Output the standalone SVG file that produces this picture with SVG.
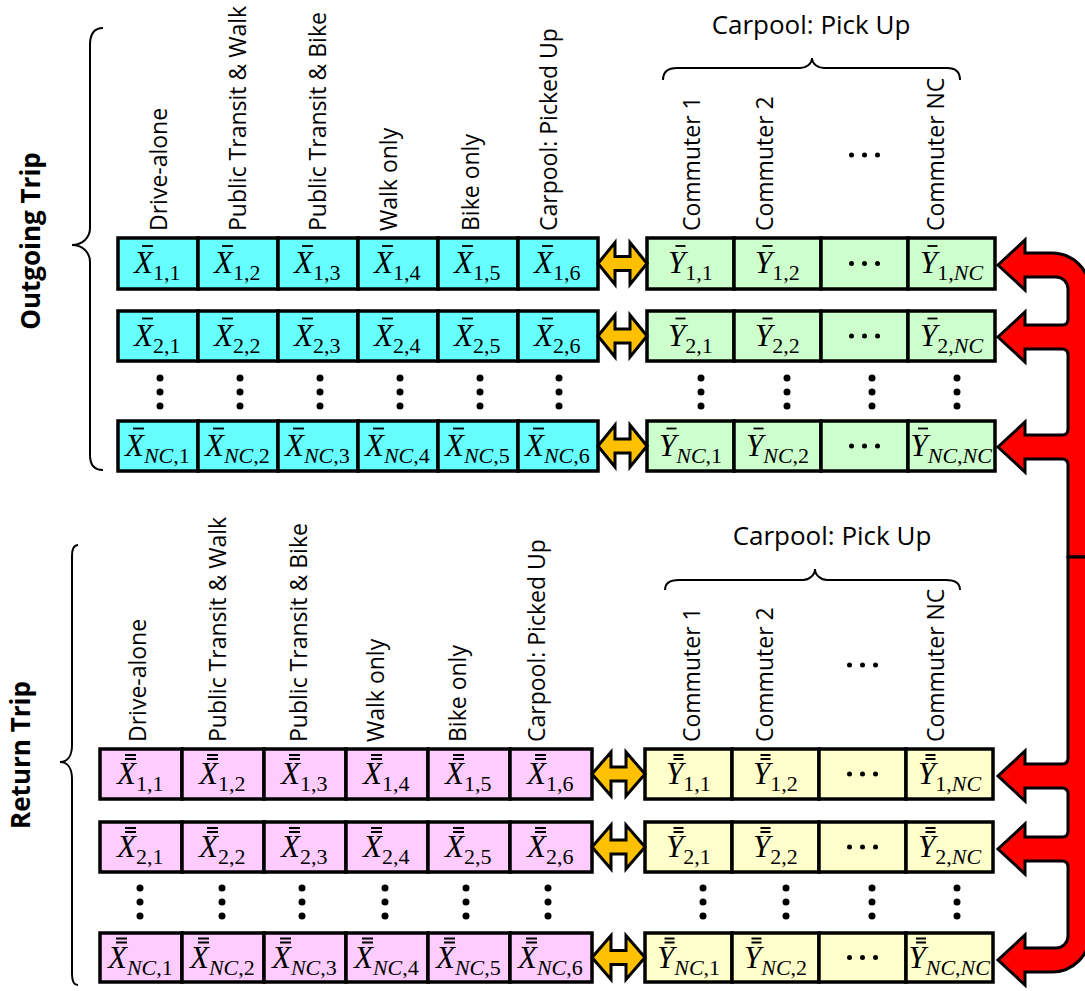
<svg xmlns="http://www.w3.org/2000/svg" xmlns:xlink="http://www.w3.org/1999/xlink" width="1085" height="991" viewBox="0 0 1085 991">
<style>
.c1{fill:#66FFFF;stroke:#000;stroke-width:3.5}
.c2{fill:#CCFFCC;stroke:#000;stroke-width:3.5}
.c3{fill:#FFCCFF;stroke:#000;stroke-width:3.5}
.c4{fill:#FFFFCC;stroke:#000;stroke-width:3.5}
.m{font-family:"Liberation Serif",serif;font-size:31px;font-style:italic;fill:#000}
.s{font-size:22px;font-style:normal}
.i{font-style:italic}
.b{stroke:#000;stroke-width:1.8;fill:none}
.l{font-family:"Open Sans",sans-serif;font-size:23px;fill:#000}
.h{font-family:"Open Sans",sans-serif;font-size:26px;fill:#000}
.t{font-family:"Open Sans",sans-serif;font-size:26px;font-weight:bold;fill:#000}
.br{fill:none;stroke:#000;stroke-width:2}
.d{fill:#000}
.oa{fill:#FFC000;stroke:#000;stroke-width:3}
.ra{fill:#FF0000;stroke:#000;stroke-width:3}
</style>
<defs>
<path id="da" d="M0 0L17 -21V-7H32V-21L49 0L32 21V7H17V21Z"/>
<path id="db" d="M0 0L19 -22V-7H34V-22L53 0L34 22V7H19V22Z"/>
<g id="vd"><circle cx="0" cy="0" r="3.5"/><circle cx="0" cy="14" r="3.5"/><circle cx="0" cy="28" r="3.5"/></g>
<g id="hd"><circle cx="-13" cy="0" r="2.5"/><circle cx="0" cy="0" r="2.5"/><circle cx="13" cy="0" r="2.5"/></g>
</defs>

<g id="titles">
<text class="t" text-anchor="middle" transform="translate(40,241) rotate(-90)">Outgoing Trip</text>
<text class="t" text-anchor="middle" transform="translate(30,755) rotate(-90)">Return Trip</text>
</g>

<g id="braces">
<path class="br" d="M103 28C94 28 90 34 90 45V228C90 238 82 245 72 245C82 245 90 252 90 262V455C90 465 94 470 103 470"/>
<path class="br" d="M78 545C75 545 72 548 72 556V745C72 755 68 762 60 762C68 762 72 769 72 779V974C72 982 75 985 78 985"/>
<path class="br" d="M663 80C663 72 668 68 677 68H800C806 68 812 64 812 58C812 64 818 68 824 68H947C956 68 960 72 960 80"/>
<path class="br" d="M665 590C665 583 670 580 679 580H803C809 580 815 575 815 569C815 575 821 580 827 580H946C955 580 960 583 960 590"/>
</g>

<g id="labels-top">
<text class="h" x="811" y="34" text-anchor="middle">Carpool: Pick Up</text>
<text class="l" transform="translate(167,231) rotate(-90)">Drive-alone</text>
<text class="l" transform="translate(246,231) rotate(-90)">Public Transit &amp; Walk</text>
<text class="l" transform="translate(326,231) rotate(-90)">Public Transit &amp; Bike</text>
<text class="l" transform="translate(397,231) rotate(-90)">Walk only</text>
<text class="l" transform="translate(479,231) rotate(-90)">Bike only</text>
<text class="l" transform="translate(557,231) rotate(-90)">Carpool: Picked Up</text>
<text class="l" transform="translate(700,231) rotate(-90)">Commuter 1</text>
<text class="l" transform="translate(773,231) rotate(-90)">Commuter 2</text>
<text class="l" transform="translate(944,231) rotate(-90)">Commuter NC</text>
<use xlink:href="#hd" x="864.5" y="155"/>
</g>

<g id="labels-bottom">
<text class="h" x="832" y="545" text-anchor="middle">Carpool: Pick Up</text>
<text class="l" transform="translate(146,742) rotate(-90)">Drive-alone</text>
<text class="l" transform="translate(226,742) rotate(-90)">Public Transit &amp; Walk</text>
<text class="l" transform="translate(307,742) rotate(-90)">Public Transit &amp; Bike</text>
<text class="l" transform="translate(384,742) rotate(-90)">Walk only</text>
<text class="l" transform="translate(466,742) rotate(-90)">Bike only</text>
<text class="l" transform="translate(545,742) rotate(-90)">Carpool: Picked Up</text>
<text class="l" transform="translate(700,742) rotate(-90)">Commuter 1</text>
<text class="l" transform="translate(773,742) rotate(-90)">Commuter 2</text>
<text class="l" transform="translate(944,742) rotate(-90)">Commuter NC</text>
<use xlink:href="#hd" x="862.5" y="665"/>
</g>

<!-- Outgoing X cells -->
<g id="ox1-1"><rect class="c1" x="118" y="238" width="80" height="51"/><path class="b" d="M142 246h11"/><text class="m" x="134" y="273">X<tspan class="s" dy="7">1,1</tspan></text></g>
<g id="ox1-2"><rect class="c1" x="198" y="238" width="80" height="51"/><path class="b" d="M222 246h11"/><text class="m" x="214" y="273">X<tspan class="s" dy="7">1,2</tspan></text></g>
<g id="ox1-3"><rect class="c1" x="278" y="238" width="80" height="51"/><path class="b" d="M302 246h11"/><text class="m" x="294" y="273">X<tspan class="s" dy="7">1,3</tspan></text></g>
<g id="ox1-4"><rect class="c1" x="358" y="238" width="80" height="51"/><path class="b" d="M382 246h11"/><text class="m" x="374" y="273">X<tspan class="s" dy="7">1,4</tspan></text></g>
<g id="ox1-5"><rect class="c1" x="438" y="238" width="80" height="51"/><path class="b" d="M462 246h11"/><text class="m" x="454" y="273">X<tspan class="s" dy="7">1,5</tspan></text></g>
<g id="ox1-6"><rect class="c1" x="518" y="238" width="80" height="51"/><path class="b" d="M542 246h11"/><text class="m" x="534" y="273">X<tspan class="s" dy="7">1,6</tspan></text></g>

<g id="ox2-1"><rect class="c1" x="118" y="311" width="80" height="50"/><path class="b" d="M142 318.5h11"/><text class="m" x="134" y="345.5">X<tspan class="s" dy="7">2,1</tspan></text></g>
<g id="ox2-2"><rect class="c1" x="198" y="311" width="80" height="50"/><path class="b" d="M222 318.5h11"/><text class="m" x="214" y="345.5">X<tspan class="s" dy="7">2,2</tspan></text></g>
<g id="ox2-3"><rect class="c1" x="278" y="311" width="80" height="50"/><path class="b" d="M302 318.5h11"/><text class="m" x="294" y="345.5">X<tspan class="s" dy="7">2,3</tspan></text></g>
<g id="ox2-4"><rect class="c1" x="358" y="311" width="80" height="50"/><path class="b" d="M382 318.5h11"/><text class="m" x="374" y="345.5">X<tspan class="s" dy="7">2,4</tspan></text></g>
<g id="ox2-5"><rect class="c1" x="438" y="311" width="80" height="50"/><path class="b" d="M462 318.5h11"/><text class="m" x="454" y="345.5">X<tspan class="s" dy="7">2,5</tspan></text></g>
<g id="ox2-6"><rect class="c1" x="518" y="311" width="80" height="50"/><path class="b" d="M542 318.5h11"/><text class="m" x="534" y="345.5">X<tspan class="s" dy="7">2,6</tspan></text></g>

<g id="oxn-1"><rect class="c1" x="118" y="421" width="80" height="50"/><path class="b" d="M133 428.5h11"/><text class="m" x="125" y="455.5">X<tspan class="s" dy="7"><tspan class="i">NC</tspan>,1</tspan></text></g>
<g id="oxn-2"><rect class="c1" x="198" y="421" width="80" height="50"/><path class="b" d="M213 428.5h11"/><text class="m" x="205" y="455.5">X<tspan class="s" dy="7"><tspan class="i">NC</tspan>,2</tspan></text></g>
<g id="oxn-3"><rect class="c1" x="278" y="421" width="80" height="50"/><path class="b" d="M293 428.5h11"/><text class="m" x="285" y="455.5">X<tspan class="s" dy="7"><tspan class="i">NC</tspan>,3</tspan></text></g>
<g id="oxn-4"><rect class="c1" x="358" y="421" width="80" height="50"/><path class="b" d="M373 428.5h11"/><text class="m" x="365" y="455.5">X<tspan class="s" dy="7"><tspan class="i">NC</tspan>,4</tspan></text></g>
<g id="oxn-5"><rect class="c1" x="438" y="421" width="80" height="50"/><path class="b" d="M453 428.5h11"/><text class="m" x="445" y="455.5">X<tspan class="s" dy="7"><tspan class="i">NC</tspan>,5</tspan></text></g>
<g id="oxn-6"><rect class="c1" x="518" y="421" width="80" height="50"/><path class="b" d="M533 428.5h11"/><text class="m" x="525" y="455.5">X<tspan class="s" dy="7"><tspan class="i">NC</tspan>,6</tspan></text></g>

<!-- Outgoing Y cells -->
<g id="oy1-1"><rect class="c2" x="647" y="238" width="87" height="51"/><path class="b" d="M675.5 246h10"/><text class="m" x="668" y="273">Y<tspan class="s" dy="7">1,1</tspan></text></g>
<g id="oy1-2"><rect class="c2" x="734" y="238" width="87" height="51"/><path class="b" d="M762.5 246h10"/><text class="m" x="755" y="273">Y<tspan class="s" dy="7">1,2</tspan></text></g>
<g id="oy1-3"><rect class="c2" x="821" y="238" width="87" height="51"/><use xlink:href="#hd" x="864.5" y="263.5"/></g>
<g id="oy1-n"><rect class="c2" x="908" y="238" width="87" height="51"/><path class="b" d="M927.5 246h10"/><text class="m" x="920" y="273">Y<tspan class="s" dy="7">1,<tspan class="i">NC</tspan></tspan></text></g>

<g id="oy2-1"><rect class="c2" x="647" y="311" width="87" height="50"/><path class="b" d="M675.5 318.5h10"/><text class="m" x="668" y="345.5">Y<tspan class="s" dy="7">2,1</tspan></text></g>
<g id="oy2-2"><rect class="c2" x="734" y="311" width="87" height="50"/><path class="b" d="M762.5 318.5h10"/><text class="m" x="755" y="345.5">Y<tspan class="s" dy="7">2,2</tspan></text></g>
<g id="oy2-3"><rect class="c2" x="821" y="311" width="87" height="50"/><use xlink:href="#hd" x="864.5" y="336"/></g>
<g id="oy2-n"><rect class="c2" x="908" y="311" width="87" height="50"/><path class="b" d="M927.5 318.5h10"/><text class="m" x="920" y="345.5">Y<tspan class="s" dy="7">2,<tspan class="i">NC</tspan></tspan></text></g>

<g id="oyn-1"><rect class="c2" x="647" y="421" width="87" height="50"/><path class="b" d="M666.5 428.5h10"/><text class="m" x="659" y="455.5">Y<tspan class="s" dy="7"><tspan class="i">NC</tspan>,1</tspan></text></g>
<g id="oyn-2"><rect class="c2" x="734" y="421" width="87" height="50"/><path class="b" d="M753.5 428.5h10"/><text class="m" x="746" y="455.5">Y<tspan class="s" dy="7"><tspan class="i">NC</tspan>,2</tspan></text></g>
<g id="oyn-3"><rect class="c2" x="821" y="421" width="87" height="50"/><use xlink:href="#hd" x="864.5" y="446"/></g>
<g id="oyn-n"><rect class="c2" x="908" y="421" width="87" height="50"/><path class="b" d="M918 428.5h10"/><text class="m" x="910.5" y="455.5">Y<tspan class="s" dy="7"><tspan class="i">NC</tspan>,<tspan class="i">NC</tspan></tspan></text></g>

<!-- Return X cells -->
<g id="rx1-1"><rect class="c3" x="100" y="749" width="82" height="50"/><path class="b" d="M125 755h11M125 759h11"/><text class="m" x="117" y="784">X<tspan class="s" dy="7">1,1</tspan></text></g>
<g id="rx1-2"><rect class="c3" x="182" y="749" width="82" height="50"/><path class="b" d="M207 755h11M207 759h11"/><text class="m" x="199" y="784">X<tspan class="s" dy="7">1,2</tspan></text></g>
<g id="rx1-3"><rect class="c3" x="264" y="749" width="82" height="50"/><path class="b" d="M289 755h11M289 759h11"/><text class="m" x="281" y="784">X<tspan class="s" dy="7">1,3</tspan></text></g>
<g id="rx1-4"><rect class="c3" x="346" y="749" width="82" height="50"/><path class="b" d="M371 755h11M371 759h11"/><text class="m" x="363" y="784">X<tspan class="s" dy="7">1,4</tspan></text></g>
<g id="rx1-5"><rect class="c3" x="428" y="749" width="82" height="50"/><path class="b" d="M453 755h11M453 759h11"/><text class="m" x="445" y="784">X<tspan class="s" dy="7">1,5</tspan></text></g>
<g id="rx1-6"><rect class="c3" x="510" y="749" width="82" height="50"/><path class="b" d="M535 755h11M535 759h11"/><text class="m" x="527" y="784">X<tspan class="s" dy="7">1,6</tspan></text></g>

<g id="rx2-1"><rect class="c3" x="100" y="822" width="82" height="50"/><path class="b" d="M125 828h11M125 832h11"/><text class="m" x="117" y="857">X<tspan class="s" dy="7">2,1</tspan></text></g>
<g id="rx2-2"><rect class="c3" x="182" y="822" width="82" height="50"/><path class="b" d="M207 828h11M207 832h11"/><text class="m" x="199" y="857">X<tspan class="s" dy="7">2,2</tspan></text></g>
<g id="rx2-3"><rect class="c3" x="264" y="822" width="82" height="50"/><path class="b" d="M289 828h11M289 832h11"/><text class="m" x="281" y="857">X<tspan class="s" dy="7">2,3</tspan></text></g>
<g id="rx2-4"><rect class="c3" x="346" y="822" width="82" height="50"/><path class="b" d="M371 828h11M371 832h11"/><text class="m" x="363" y="857">X<tspan class="s" dy="7">2,4</tspan></text></g>
<g id="rx2-5"><rect class="c3" x="428" y="822" width="82" height="50"/><path class="b" d="M453 828h11M453 832h11"/><text class="m" x="445" y="857">X<tspan class="s" dy="7">2,5</tspan></text></g>
<g id="rx2-6"><rect class="c3" x="510" y="822" width="82" height="50"/><path class="b" d="M535 828h11M535 832h11"/><text class="m" x="527" y="857">X<tspan class="s" dy="7">2,6</tspan></text></g>

<g id="rxn-1"><rect class="c3" x="100" y="933" width="82" height="49"/><path class="b" d="M116 938.5h11M116 942.5h11"/><text class="m" x="108" y="967.5">X<tspan class="s" dy="7"><tspan class="i">NC</tspan>,1</tspan></text></g>
<g id="rxn-2"><rect class="c3" x="182" y="933" width="82" height="49"/><path class="b" d="M198 938.5h11M198 942.5h11"/><text class="m" x="190" y="967.5">X<tspan class="s" dy="7"><tspan class="i">NC</tspan>,2</tspan></text></g>
<g id="rxn-3"><rect class="c3" x="264" y="933" width="82" height="49"/><path class="b" d="M280 938.5h11M280 942.5h11"/><text class="m" x="272" y="967.5">X<tspan class="s" dy="7"><tspan class="i">NC</tspan>,3</tspan></text></g>
<g id="rxn-4"><rect class="c3" x="346" y="933" width="82" height="49"/><path class="b" d="M362 938.5h11M362 942.5h11"/><text class="m" x="354" y="967.5">X<tspan class="s" dy="7"><tspan class="i">NC</tspan>,4</tspan></text></g>
<g id="rxn-5"><rect class="c3" x="428" y="933" width="82" height="49"/><path class="b" d="M444 938.5h11M444 942.5h11"/><text class="m" x="436" y="967.5">X<tspan class="s" dy="7"><tspan class="i">NC</tspan>,5</tspan></text></g>
<g id="rxn-6"><rect class="c3" x="510" y="933" width="82" height="49"/><path class="b" d="M526 938.5h11M526 942.5h11"/><text class="m" x="518" y="967.5">X<tspan class="s" dy="7"><tspan class="i">NC</tspan>,6</tspan></text></g>

<!-- Return Y cells -->
<g id="ry1-1"><rect class="c4" x="645" y="749" width="87" height="50"/><path class="b" d="M673.5 755h10M673.5 759h10"/><text class="m" x="666" y="784">Y<tspan class="s" dy="7">1,1</tspan></text></g>
<g id="ry1-2"><rect class="c4" x="732" y="749" width="87" height="50"/><path class="b" d="M760.5 755h10M760.5 759h10"/><text class="m" x="753" y="784">Y<tspan class="s" dy="7">1,2</tspan></text></g>
<g id="ry1-3"><rect class="c4" x="819" y="749" width="87" height="50"/><use xlink:href="#hd" x="862.5" y="774"/></g>
<g id="ry1-n"><rect class="c4" x="906" y="749" width="87" height="50"/><path class="b" d="M925.5 755h10M925.5 759h10"/><text class="m" x="918" y="784">Y<tspan class="s" dy="7">1,<tspan class="i">NC</tspan></tspan></text></g>

<g id="ry2-1"><rect class="c4" x="645" y="822" width="87" height="50"/><path class="b" d="M673.5 828h10M673.5 832h10"/><text class="m" x="666" y="857">Y<tspan class="s" dy="7">2,1</tspan></text></g>
<g id="ry2-2"><rect class="c4" x="732" y="822" width="87" height="50"/><path class="b" d="M760.5 828h10M760.5 832h10"/><text class="m" x="753" y="857">Y<tspan class="s" dy="7">2,2</tspan></text></g>
<g id="ry2-3"><rect class="c4" x="819" y="822" width="87" height="50"/><use xlink:href="#hd" x="862.5" y="847"/></g>
<g id="ry2-n"><rect class="c4" x="906" y="822" width="87" height="50"/><path class="b" d="M925.5 828h10M925.5 832h10"/><text class="m" x="918" y="857">Y<tspan class="s" dy="7">2,<tspan class="i">NC</tspan></tspan></text></g>

<g id="ryn-1"><rect class="c4" x="645" y="933" width="87" height="49"/><path class="b" d="M664.5 938.5h10M664.5 942.5h10"/><text class="m" x="657" y="967.5">Y<tspan class="s" dy="7"><tspan class="i">NC</tspan>,1</tspan></text></g>
<g id="ryn-2"><rect class="c4" x="732" y="933" width="87" height="49"/><path class="b" d="M751.5 938.5h10M751.5 942.5h10"/><text class="m" x="744" y="967.5">Y<tspan class="s" dy="7"><tspan class="i">NC</tspan>,2</tspan></text></g>
<g id="ryn-3"><rect class="c4" x="819" y="933" width="87" height="49"/><use xlink:href="#hd" x="862.5" y="957.5"/></g>
<g id="ryn-n"><rect class="c4" x="906" y="933" width="87" height="49"/><path class="b" d="M916 938.5h10M916 942.5h10"/><text class="m" x="908.5" y="967.5">Y<tspan class="s" dy="7"><tspan class="i">NC</tspan>,<tspan class="i">NC</tspan></tspan></text></g>

<g id="vdots" class="d">
<use xlink:href="#vd" x="160" y="378"/><use xlink:href="#vd" x="240" y="378"/><use xlink:href="#vd" x="320" y="378"/><use xlink:href="#vd" x="400" y="378"/><use xlink:href="#vd" x="480" y="378"/><use xlink:href="#vd" x="559" y="378"/>
<use xlink:href="#vd" x="701" y="378"/><use xlink:href="#vd" x="787" y="378"/><use xlink:href="#vd" x="872" y="378"/><use xlink:href="#vd" x="957" y="378"/>
<use xlink:href="#vd" x="140" y="888"/><use xlink:href="#vd" x="222" y="888"/><use xlink:href="#vd" x="302" y="888"/><use xlink:href="#vd" x="385" y="888"/><use xlink:href="#vd" x="466" y="888"/><use xlink:href="#vd" x="548" y="888"/>
<use xlink:href="#vd" x="703" y="888"/><use xlink:href="#vd" x="786" y="888"/><use xlink:href="#vd" x="872" y="888"/><use xlink:href="#vd" x="957" y="888"/>
</g>

<g id="connectors">
<use class="oa" xlink:href="#da" x="598" y="263.5"/>
<use class="oa" xlink:href="#da" x="598" y="336"/>
<use class="oa" xlink:href="#da" x="598" y="446"/>
<use class="oa" xlink:href="#db" x="592" y="774"/>
<use class="oa" xlink:href="#db" x="592" y="847"/>
<use class="oa" xlink:href="#db" x="592" y="957.5"/>
<path class="ra" d="M998 265L1025 240V253H1052A38 38 0 0 1 1090 291V557H1068V465Q1068 459 1062 459H1025V472L998 447L1025 422V435H1062Q1068 435 1068 429V355Q1068 349 1062 349H1025V362L998 337L1025 312V325H1062Q1068 325 1068 319V289A12 12 0 0 0 1056 277H1025V290Z"/>
<path class="ra" d="M1068 557H1090V934A38 38 0 0 1 1052 972H1025V985L998 960L1025 935V948H1056A12 12 0 0 0 1068 936V867Q1068 861 1062 861H1025V874L998 849L1025 824V837H1062Q1068 837 1068 831V794Q1068 788 1062 788H1025V801L998 776L1025 751V764H1062Q1068 764 1068 758Z"/>
</g>
</svg>
